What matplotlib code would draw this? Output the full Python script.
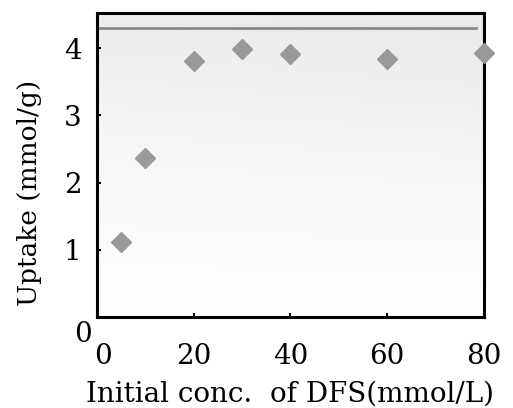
import numpy as np
import matplotlib
matplotlib.use("Agg")
import matplotlib.pyplot as plt
import matplotlib.transforms as mtransforms
from matplotlib.colors import LinearSegmentedColormap

conc = [5, 10, 20, 30, 40, 60, 80]
uptake = [1.12, 2.36, 3.81, 3.99, 3.91, 3.84, 3.92]
max_uptake = 4.30
xticks = [0, 20, 40, 60, 80]
yticks = [0, 1, 2, 3, 4]

plt.rcParams['font.family'] = ['DejaVu Serif']
fig = plt.figure(figsize=(5.13, 4.08), dpi=100)
ax = fig.add_axes([0.189, 0.223, 0.754, 0.745])

# gradient background: light grey at top fading to white at bottom
gx, gy = np.meshgrid(np.linspace(0, 1, 200), np.linspace(0, 1, 200))
g = (1 - gy) ** 1.3 * 0.85 + gx * 0.15 * (1 - gy)
cmap = LinearSegmentedColormap.from_list('bg', ['#ffffff', '#e9e9e9'])
ax.imshow(g, extent=[0, 1, 0, 1], transform=ax.transAxes, cmap=cmap,
          vmin=0, vmax=1, aspect='auto', zorder=0, origin='upper')

ax.axhline(max_uptake, color='#888888', lw=2, xmax=0.98, zorder=2)
ax.plot(conc, uptake, linestyle='none', marker='D', markersize=10,
        color='#999999', markeredgecolor='#999999', zorder=3, clip_on=False)

ax.set_xlim(0, 80)
ax.set_ylim(0, 4.52)
ax.set_xticks(xticks)
ax.set_yticks(yticks)
ax.tick_params(direction='in', length=3, width=1.5, labelsize=20)
ax.tick_params(axis='x', pad=19)
ax.tick_params(axis='y', pad=11)
for s in ax.spines.values():
    s.set_linewidth(2.2)

ax.set_xlabel('Initial conc.  of DFS(mmol/L)', fontsize=20, labelpad=7)
ax.set_ylabel('Uptake (mmol/g)', fontsize=19)
ax.yaxis.set_label_coords(-0.143, 0.41)

lab_y0 = ax.get_yticklabels()[0]
lab_y0.set_transform(lab_y0.get_transform() + mtransforms.ScaledTranslation(10 / 100, -14 / 100, fig.dpi_scale_trans))
lab_x0 = ax.get_xticklabels()[0]
lab_x0.set_transform(lab_x0.get_transform() + mtransforms.ScaledTranslation(6 / 100, 0, fig.dpi_scale_trans))

fig.savefig('out.png', dpi=100)
